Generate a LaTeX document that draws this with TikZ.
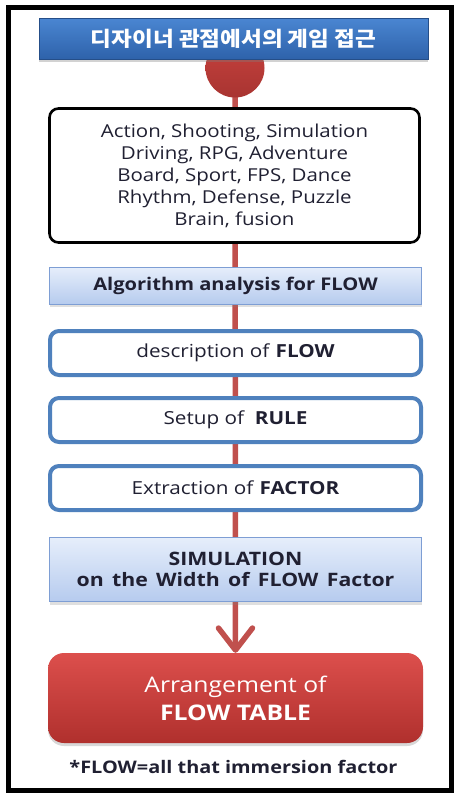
\documentclass[tikz,border=0pt]{standalone}
\usepackage{fontspec}
\setmainfont{Open Sans}[FakeStretch=1.15]
\newfontfamily\kofont{Noto Sans CJK KR}[FakeStretch=1.1]
\usetikzlibrary{arrows.meta,shadows,backgrounds}

\definecolor{barTop}{HTML}{4A86D2}
\definecolor{barBot}{HTML}{2E62AA}
\definecolor{flowRed}{HTML}{C0504D}
\definecolor{dotTop}{HTML}{C8423E}
\definecolor{dotBot}{HTML}{A83431}
\definecolor{paleTop}{HTML}{E6EEFB}
\definecolor{paleBot}{HTML}{B6CBEE}
\definecolor{paleLine}{HTML}{7E9ED4}
\definecolor{stepLine}{HTML}{4F81BD}
\definecolor{resTop}{HTML}{DC4F4C}
\definecolor{resBot}{HTML}{B0302D}
\definecolor{inkDark}{HTML}{202032}

\tikzset{
  headbar/.style={rectangle,minimum width=389pt,minimum height=41pt,inner sep=0pt,
    top color=barTop,bottom color=barBot,draw=barBot!80!black,line width=0.4pt,
    drop shadow={opacity=0.35,shadow xshift=0pt,shadow yshift=-3pt},
    text=white,font=\kofont\bfseries\fontsize{20.5}{22}\selectfont},
  genrebox/.style={rectangle,rounded corners=9pt,draw=black,line width=2.6pt,fill=white,
    minimum width=370pt,minimum height=134pt,inner sep=0pt,align=center,
    text=inkDark,font=\fontsize{17.8}{22}\selectfont},
  palebar/.style={rectangle,top color=paleTop,bottom color=paleBot,draw=paleLine,line width=1pt,
    minimum width=372pt,inner sep=0pt,align=center,text=inkDark,
    drop shadow={opacity=0.25,shadow xshift=0pt,shadow yshift=-3pt}},
  stepbox/.style={rectangle,rounded corners=9pt,draw=stepLine,line width=4pt,fill=white,
    minimum width=371pt,minimum height=44pt,inner sep=0pt,
    text=inkDark,font=\fontsize{18}{20}\selectfont},
  resultbox/.style={rectangle,rounded corners=16pt,top color=resTop,bottom color=resBot,
    minimum width=375pt,minimum height=90pt,inner sep=0pt,align=center,text=white,
    drop shadow={opacity=0.3,shadow xshift=0pt,shadow yshift=-3pt},
    font=\fontsize{21.5}{28}\selectfont},
  flowline/.style={draw=flowRed,line width=5.5pt},
}

\begin{document}
\begin{tikzpicture}[x=1pt,y=-1pt]
\useasboundingbox (0,0) rectangle (457,795);
% frame
\begin{scope}[on background layer]
\draw[line width=5pt,fill=white] (8,7.5) rectangle (451,790.5);
\end{scope}

% red dot under the title
\coordinate (dotc) at (235,68);
\shade[top color=dotTop,bottom color=dotBot] (dotc) circle (29.5);

\node[headbar] (title) at (233.5,38.5) {디자이너 관점에서의 게임 접근};

\node[genrebox] (genre) at (234.5,175.5)
  {Action, Shooting, Simulation\\Driving, RPG, Adventure\\Board, Sport, FPS, Dance\\
   Rhythm, Defense, Puzzle\\Brain, fusion};

\node[palebar,minimum height=37pt,font=\bfseries\fontsize{17.5}{20}\selectfont] (algo) at (235.5,285.5)
  {Algorithm analysis for FLOW};

\node[stepbox] (desc) at (235.5,353) {description of \textbf{FLOW}};
\node[stepbox] (rule) at (235.5,420) {Setup of\ \ \textbf{RULE}};
\node[stepbox] (extr) at (235.5,488) {Extraction of \textbf{FACTOR}};

\node[palebar,minimum height=64pt,font=\bfseries\fontsize{18.5}{21}\selectfont] (simu) at (235.5,569.5)
  {SIMULATION\\on\hspace{0.45em}the\hspace{0.45em}Width\hspace{0.45em}of\hspace{0.45em}FLOW\hspace{0.45em}Factor};

\node[resultbox] (table) at (235.5,698) {Arrangement of\\\textbf{FLOW TABLE}};

\node[text=inkDark,font=\bfseries\fontsize{17.3}{20}\selectfont] (note) at (233.5,767)
  {*FLOW=all that immersion factor};

% connector behind the boxes
\begin{scope}[on background layer]
\draw[flowline,-{Straight Barb[round,length=22pt,width=34pt]}] (dotc) -- (table.north);
\end{scope}
\end{tikzpicture}
\end{document}
